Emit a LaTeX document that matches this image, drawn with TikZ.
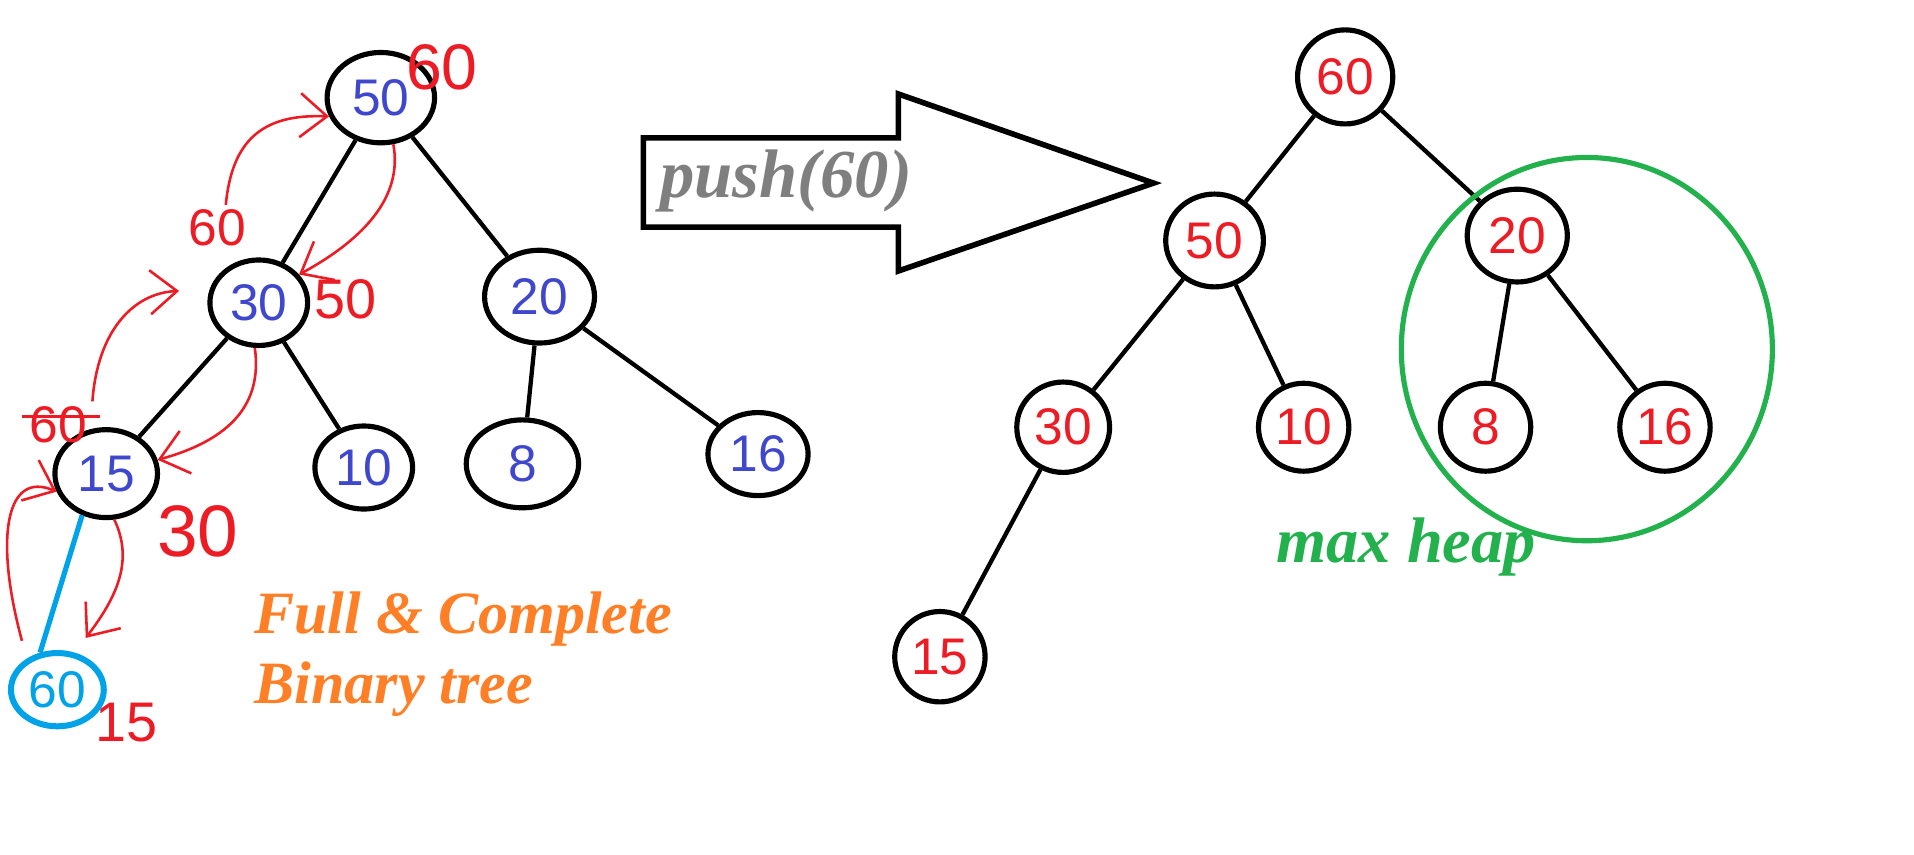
\documentclass[tikz,border=0pt]{standalone}
\usepackage{fontspec}
\setmainfont{Liberation Sans}
\newfontfamily\captionfont{Liberation Serif}
\usetikzlibrary{shapes,arrows,arrows.meta,positioning}

\definecolor{penred}{RGB}{237,28,36}
\definecolor{penblue}{RGB}{63,72,204}
\definecolor{pencyan}{RGB}{0,162,232}
\definecolor{penorange}{RGB}{255,127,39}
\definecolor{pengreen}{RGB}{34,177,76}
\definecolor{pengray}{RGB}{127,127,127}

\begin{document}
\begin{tikzpicture}[x=0.01cm, y=-0.01cm,
  heapnode/.style={ellipse, draw, line width=1.2pt, inner sep=0pt, font=\fontsize{12}{12}\selectfont},
  branch/.style={line width=1pt},
  scrawl/.style={penred, line width=0.6pt, -{Straight Barb[length=2.2mm,width=3.6mm]}},
  scribble/.style={penred, inner sep=1pt, font=\fontsize{12}{12}\selectfont},
  caption/.style={font=\captionfont\bfseries\itshape\fontsize{15}{17}\selectfont}]
  \useasboundingbox (0,0) rectangle (1568,700);

  % tree before the push
  \node[heapnode, text=penblue, minimum width=0.88cm, minimum height=0.74cm] (n50) at (312,80) {50};
  \node[heapnode, text=penblue, minimum width=0.80cm, minimum height=0.70cm] (n30) at (212,248) {30};
  \node[heapnode, text=penblue, minimum width=0.90cm, minimum height=0.76cm] (n20) at (442,243) {20};
  \node[heapnode, text=penblue, minimum width=0.84cm, minimum height=0.72cm] (n15) at (87,388) {15};
  \node[heapnode, text=penblue, minimum width=0.80cm, minimum height=0.68cm] (n10) at (298,383) {10};
  \node[heapnode, text=penblue, minimum width=0.92cm, minimum height=0.72cm] (n8) at (428,380) {8};
  \node[heapnode, text=penblue, minimum width=0.82cm, minimum height=0.68cm] (n16) at (621,372) {16};
  \node[heapnode, draw=pencyan, text=pencyan, line width=1.4pt, minimum width=0.76cm, minimum height=0.60cm] (n60) at (47,565) {60};

  \draw[branch] (n50) -- (n30);
  \draw[branch] (n50) -- (n20);
  \draw[branch] (n30) -- (n15);
  \draw[branch] (n30) -- (n10);
  \draw[branch] (n20) -- (n8);
  \draw[branch] (n20) -- (n16);
  \draw[pencyan, line width=1.2pt] (n15.240) -- (n60.115);

  % swaps scribbled in red
  \node[scribble, font=\fontsize{15}{15}\selectfont] (lblTop) at (362,55) {60};
  \node[scribble] (lblA) at (178,187) {60};
  \node[scribble, font=\fontsize{13}{13}\selectfont] (lblB) at (283,245) {50};
  \node[scribble] (lblC) at (48,348) {60};
  \node[scribble, font=\fontsize{17}{17}\selectfont] (lblD) at (162,435) {30};
  \node[scribble, font=\fontsize{13}{13}\selectfont] (lblE) at (104,592) {15};
  \draw[penred, line width=0.6pt] (18,341) -- (82,341);
  \coordinate (tail15) at (18,525);

  \draw[scrawl] (lblA.70) .. controls (190,115) and (215,93) .. (n50.200);
  \draw[scrawl] (n50.285) .. controls (330,160) and (300,195) .. (n30.35);
  \draw[scrawl, shorten >=2.5mm] (lblC.north east) .. controls (80,270) and (110,240) .. (n30.165);
  \draw[scrawl] (n30.265) .. controls (215,330) and (190,360) .. (n15.15);
  \draw[scrawl] (tail15) .. controls (-5,440) and (5,385) .. (n15.200);
  \draw[scrawl, shorten >=1.5mm] (n15.280) .. controls (110,460) and (95,490) .. (n60.65);

  \node[caption, penorange, align=left, anchor=north west, font=\captionfont\bfseries\itshape\fontsize{14}{16.5}\selectfont] (full) at (196,472) {Full \& Complete\\Binary tree};

  % the push arrow
  \draw[line width=1.3pt] (527,113) -- (736,113) -- (736,77) -- (945,150) -- (736,222) -- (736,186) -- (527,186) -- cycle;
  \node[caption, pengray, font=\captionfont\bfseries\itshape\fontsize{16}{18}\selectfont] (push) at (644,148) {push(60)};

  % tree after the push
  \node[heapnode, text=penred, minimum width=0.78cm, minimum height=0.77cm] (r60) at (1102,63) {60};
  \node[heapnode, text=penred, minimum width=0.80cm, minimum height=0.76cm] (r50) at (995,197) {50};
  \node[heapnode, text=penred, minimum width=0.82cm, minimum height=0.76cm] (r20) at (1243,193) {20};
  \node[heapnode, text=penred, minimum width=0.76cm, minimum height=0.74cm] (r30) at (871,350) {30};
  \node[heapnode, text=penred, minimum width=0.74cm, minimum height=0.72cm] (r10) at (1068,350) {10};
  \node[heapnode, text=penred, minimum width=0.74cm, minimum height=0.72cm] (r8) at (1217,350) {8};
  \node[heapnode, text=penred, minimum width=0.74cm, minimum height=0.72cm] (r16) at (1364,350) {16};
  \node[heapnode, text=penred, minimum width=0.74cm, minimum height=0.74cm] (r15) at (770,538) {15};

  \draw[branch] (r60) -- (r50);
  \draw[branch] (r60) -- (r20);
  \draw[branch] (r50) -- (r30);
  \draw[branch] (r50) -- (r10);
  \draw[branch] (r20) -- (r8);
  \draw[branch] (r20) -- (r16);
  \draw[branch] (r30) -- (r15);

  \draw[pengreen, line width=1.2pt] (1300,286) ellipse (152 and 157);
  \node[caption, pengreen] (maxheap) at (1152,448) {max heap};
\end{tikzpicture}
\end{document}
